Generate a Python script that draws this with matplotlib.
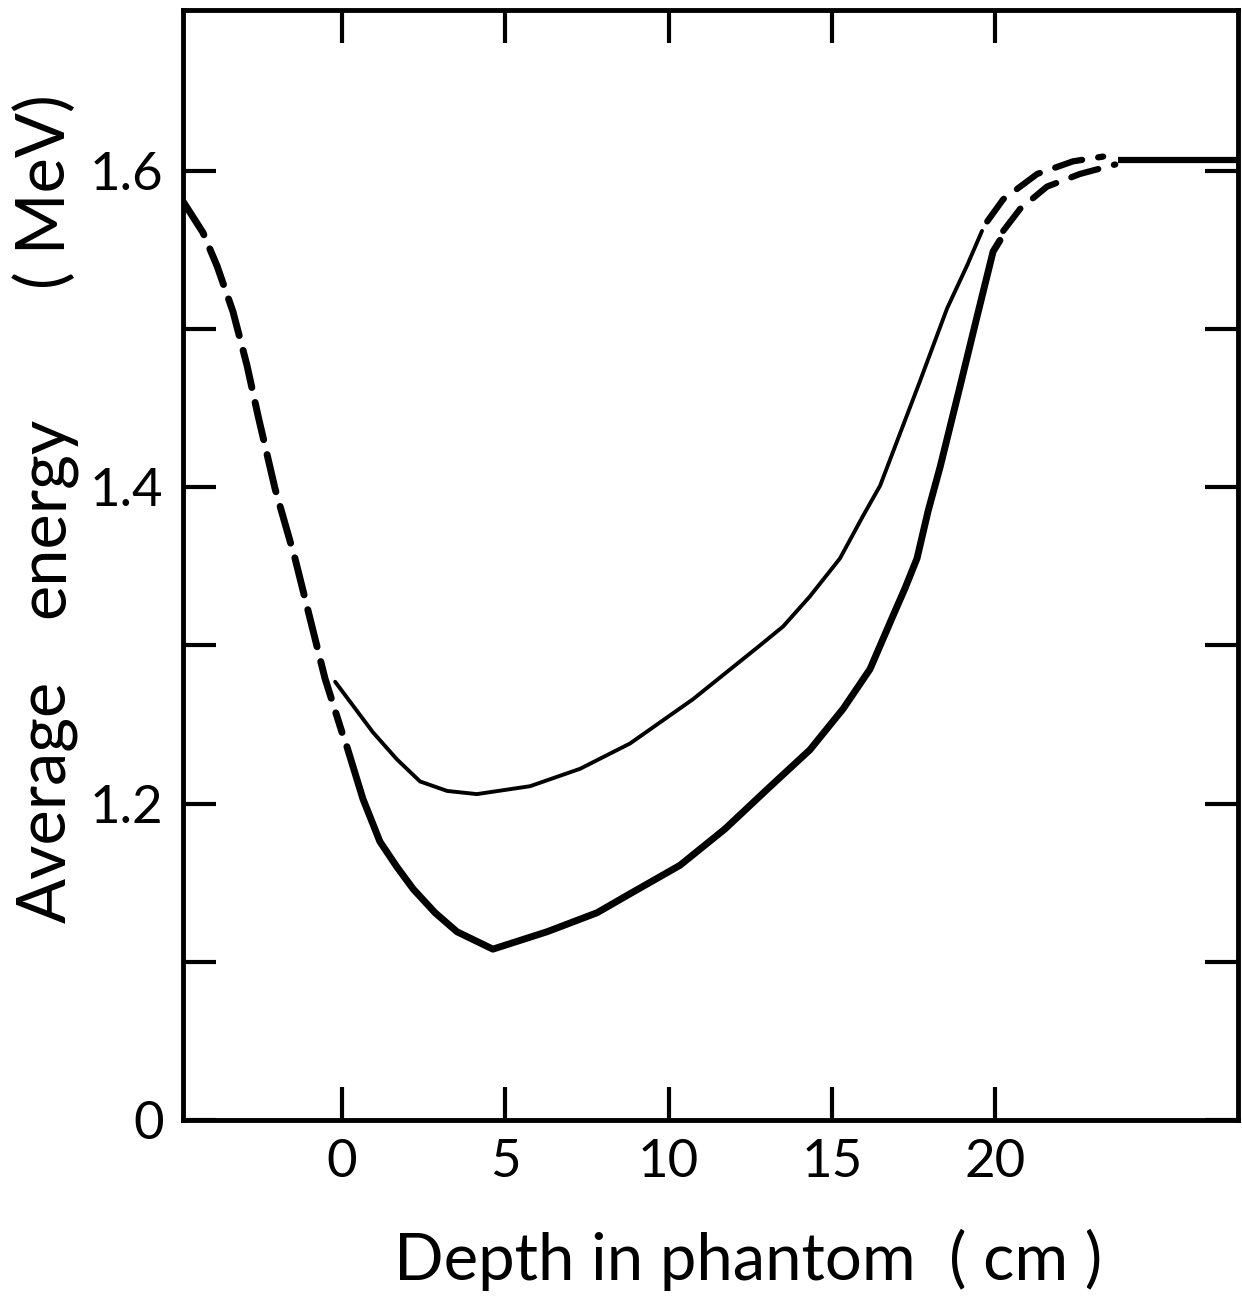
import numpy as np
import matplotlib
matplotlib.use("Agg")
import matplotlib.pyplot as plt

plt.rcParams['font.family'] = ['Lato', 'DejaVu Sans']

# --- Werte ---
# gestrichelter Anlauf vor dem Phantom
lead_x = [-4.85, -4.26, -3.83, -3.34, -2.91, -2.57, -2.05, -1.44, -0.98, -0.52, 0.0]
lead_y = [1.580, 1.561, 1.540, 1.511, 1.477, 1.445, 1.399, 1.355, 1.317, 1.279, 1.245]

# dicke Kurve
thick_x = [0.15, 0.64, 1.16, 1.68, 2.18, 2.85, 3.52, 4.62, 6.28, 7.81, 8.82, 10.35,
           11.73, 13.02, 14.33, 15.35, 16.17, 16.88, 17.24, 17.61, 17.95, 18.32,
           18.93, 19.45, 19.94, 20.15]
thick_y = [1.236, 1.203, 1.176, 1.160, 1.146, 1.131, 1.119, 1.108, 1.119, 1.131, 1.143, 1.161,
           1.184, 1.209, 1.234, 1.260, 1.285, 1.319, 1.336, 1.355, 1.385, 1.413,
           1.464, 1.508, 1.549, 1.556]
thick_tail_x = [20.25, 20.77, 21.59, 22.60, 23.68]
thick_tail_y = [1.562, 1.576, 1.590, 1.598, 1.604]

# duenne Kurve
thin_x = [-0.21, 0.95, 1.68, 2.39, 3.22, 4.13, 5.76, 7.29, 8.82, 10.75, 12.80, 13.51,
          14.33, 15.25, 15.96, 16.48, 17.09, 17.70, 18.53, 19.14, 19.60]
thin_y = [1.277, 1.245, 1.228, 1.214, 1.208, 1.206, 1.211, 1.222, 1.238, 1.266, 1.300, 1.312,
          1.331, 1.355, 1.382, 1.401, 1.434, 1.467, 1.513, 1.540, 1.562]
thin_tail_x = [19.76, 20.25, 21.29, 22.39, 23.31]
thin_tail_y = [1.568, 1.582, 1.598, 1.606, 1.609]

# Plateau hinter dem Phantom
plateau_x = [23.77, 27.44]
plateau_y = [1.607, 1.607]

xticks = [0, 5, 10, 15, 20]
yticks = [1.0, 1.1, 1.2, 1.3, 1.4, 1.5, 1.6]
ytick_labels = ['0', '', '1.2', '', '1.4', '', '1.6']

W, H = 1242, 1296
fig = plt.figure(figsize=(W / 100, H / 100), dpi=100)
ax = fig.add_axes([183 / W, 1 - 1120 / H, (1238 - 183) / W, (1120 - 10) / H])

ax.plot(lead_x, lead_y, color='black', lw=5, dashes=(5.5, 2.2),
        dash_capstyle='round')
ax.plot(thick_x, thick_y, color='black', lw=5, solid_capstyle='round',
        solid_joinstyle='round')
ax.plot(thick_tail_x, thick_tail_y, color='black', lw=4.5, dashes=(4.5, 2.6),
        dash_capstyle='round')
ax.plot(thin_x, thin_y, color='black', lw=2.8, solid_capstyle='round',
        solid_joinstyle='round')
ax.plot(thin_tail_x, thin_tail_y, color='black', lw=4.5, dashes=(4.5, 2.6),
        dash_capstyle='round')
ax.plot(plateau_x, plateau_y, color='black', lw=4.5, solid_capstyle='butt')

ax.set_xlim(-4.87, 27.44)
ax.set_ylim(1.0, 1.0 + 1110 / 1582)

ax.set_xticks(xticks)
ax.set_xticklabels([str(v) for v in xticks])
ax.set_yticks(yticks)
ax.set_yticklabels(ytick_labels)

ax.tick_params(direction='in', length=24, width=3, top=True, right=True,
               labelsize=38, pad=14)

for s in ax.spines.values():
    s.set_linewidth(3.5)

fig.text(748 / W, 1 - 1280 / H, 'Depth in phantom  ( cm )', fontsize=47,
         ha='center', va='baseline')

# y-Beschriftung wortweise gesetzt, wie im Original weit gesperrt
for word, yc in [('Average', 802), ('energy', 517), ('( MeV)', 192)]:
    fig.text(65 / W, 1 - yc / H, word, fontsize=48, rotation=90,
             rotation_mode='anchor', ha='center', va='baseline')

fig.savefig('out.png', dpi=100, facecolor='white')
